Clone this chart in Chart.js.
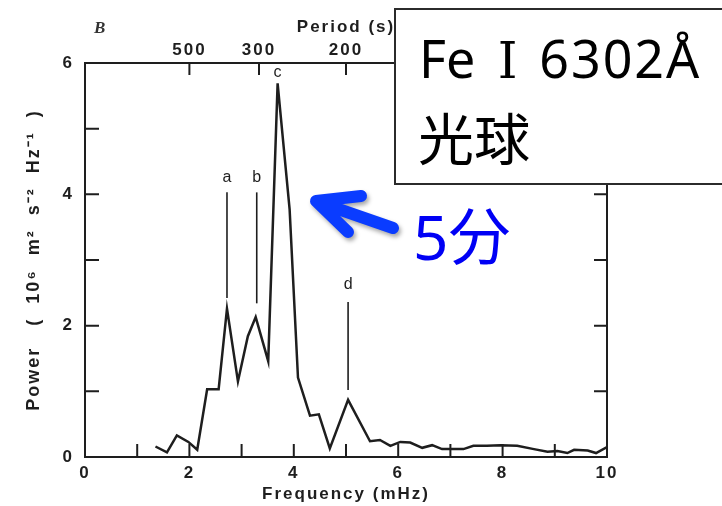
<!DOCTYPE html>
<html>
<head>
<meta charset="utf-8">
<script src="https://cdn.jsdelivr.net/npm/chart.js@4.4.1/dist/chart.umd.min.js"></script>
<style>
  html, body { margin: 0; padding: 0; background: #fff; }
  #wrap { position: relative; width: 722px; height: 506px; overflow: hidden; }
  #chart { position: absolute; left: 0; top: 0; }
  .note { position: absolute; white-space: nowrap; line-height: 1; }
  #panel { position: absolute; left: 394px; top: 8px; width: 360px; height: 173px;
           border: 2px solid #2b2b2b; background: #fff; }
  #line1 { left: 23px; top: 12px; font: 52px "Noto Sans", "Noto Sans CJK JP", sans-serif; color: #000; }
  #line1 .num { font-family: "DejaVu Serif", "Noto Sans CJK JP", serif; font-size: 50px; margin: 0 8px 0 9px; }
  #line1 .wl { letter-spacing: 2px; }
  #line2 { left: 22px; top: 85px; font: 56px "Noto Sans CJK JP", sans-serif; color: #000; }
  #fivemin { left: 413px; top: 188px; font: 62px "Noto Sans", "Noto Sans CJK JP", sans-serif; color: #0000f5; }
  #figB { left: 94px; top: 18px; font: italic bold 17px "Liberation Serif", serif; color: #333; }
</style>
</head>
<body>
<div id="wrap">
  <canvas id="chart" width="722" height="506"></canvas>
  <div class="note" id="figB">B</div>
  <div id="panel">
    <div class="note" id="line1">Fe <span class="num">Ⅰ</span> <span class="wl">6302Å</span></div>
    <div class="note" id="line2">光球</div>
  </div>
  <div class="note" id="fivemin">5分</div>
</div>
<script>
'use strict';

// power spectrum
var freq  = [1.35, 1.57, 1.76, 1.98, 2.15, 2.34, 2.56, 2.72, 2.93, 3.12, 3.27, 3.51, 3.69, 3.92, 4.08,
             4.31, 4.48, 4.69, 5.04, 5.46, 5.65, 5.85, 6.04, 6.23, 6.46, 6.65, 6.84, 7.05, 7.25, 7.44,
             7.70, 7.96, 8.28, 8.60, 8.86, 9.05, 9.24, 9.37, 9.63, 9.79, 10.0];
var power = [0.16, 0.07, 0.33, 0.23, 0.11, 1.03, 1.03, 2.26, 1.15, 1.84, 2.13, 1.46, 5.69, 3.77, 1.21,
             0.63, 0.65, 0.13, 0.87, 0.24, 0.26, 0.17, 0.23, 0.22, 0.14, 0.18, 0.12, 0.12, 0.12, 0.17,
             0.17, 0.18, 0.17, 0.12, 0.08, 0.09, 0.06, 0.11, 0.10, 0.06, 0.15];

var freqTicks   = [0, 1, 2, 3, 4, 5, 6, 7, 8, 9, 10];
var powerTicks  = [0, 1, 2, 3, 4, 5, 6];
var periodTicks = [500, 300, 200, 150, 100];

// peak markers a-d
var peakNames = ['a', 'b', 'c', 'd'];
var peakFreq  = [2.72, 3.29, 3.69, 5.04];
var peakLow   = [2.42, 2.34, null, 1.02];
var peakHigh  = [4.03, 4.03, null, 2.36];
var peakLabel = [4.26, 4.26, 5.86, 2.62];

var ink = '#1e1e1e';
var axisFont = { family: '"Liberation Sans", Arial, sans-serif', size: 17, weight: 'bold' };

function setTicks(list) {
  return function (scale) {
    scale.ticks = list.map(function (v) { return { value: v }; });
  };
}

var paperStyle = {
  id: 'paperStyle',
  beforeDraw: function (chart) {
    chart.ctx.letterSpacing = '2px';
  },
  afterDraw: function (chart) {
    var ctx = chart.ctx;
    var a = chart.chartArea;
    var s = chart.scales;
    ctx.save();
    ctx.letterSpacing = '0px';
    ctx.strokeStyle = ink;
    ctx.lineWidth = 2;
    ctx.beginPath();
    // inward tick marks
    s.x.ticks.forEach(function (t) {
      if (t.value <= 0 || t.value >= 10) return;
      var px = s.x.getPixelForValue(t.value);
      ctx.moveTo(px, a.bottom); ctx.lineTo(px, a.bottom - 13);
    });
    s.x2.ticks.forEach(function (t) {
      var px = s.x2.getPixelForValue(t.value);
      ctx.moveTo(px, a.top); ctx.lineTo(px, a.top + 12);
    });
    s.y.ticks.forEach(function (t) {
      if (t.value <= 0 || t.value >= 6) return;
      var py = s.y.getPixelForValue(t.value);
      ctx.moveTo(a.left, py); ctx.lineTo(a.left + 14, py);
    });
    s.y2.ticks.forEach(function (t) {
      if (t.value <= 0 || t.value >= 6) return;
      var py = s.y2.getPixelForValue(t.value);
      ctx.moveTo(a.right, py); ctx.lineTo(a.right - 13, py);
    });
    ctx.stroke();

    // peak markers
    ctx.lineWidth = 1.6;
    ctx.fillStyle = ink;
    ctx.font = '16px "Liberation Sans", Arial, sans-serif';
    ctx.textAlign = 'center';
    ctx.textBaseline = 'middle';
    peakNames.forEach(function (name, i) {
      var px = s.x.getPixelForValue(peakFreq[i]);
      if (peakLow[i] !== null) {
        ctx.beginPath();
        ctx.moveTo(px, s.y.getPixelForValue(peakLow[i]));
        ctx.lineTo(px, s.y.getPixelForValue(peakHigh[i]));
        ctx.stroke();
      }
      ctx.fillText(name, px, s.y.getPixelForValue(peakLabel[i]));
    });

    // blue arrow pointing at the 5 min peak
    ctx.shadowColor = 'rgba(0,0,0,0.35)';
    ctx.shadowBlur = 4;
    ctx.shadowOffsetX = 2;
    ctx.shadowOffsetY = 3;
    ctx.strokeStyle = '#0a3cff';
    ctx.lineWidth = 12;
    ctx.lineCap = 'round';
    ctx.lineJoin = 'round';
    ctx.beginPath();
    ctx.moveTo(393, 228); ctx.lineTo(318, 202);
    ctx.moveTo(361, 196); ctx.lineTo(316, 201); ctx.lineTo(348, 232);
    ctx.stroke();
    ctx.restore();
  }
};

var chart = new Chart(document.getElementById('chart').getContext('2d'), {
  type: 'line',
  data: {
    datasets: [{
      data: freq.map(function (f, i) { return { x: f, y: power[i] }; }),
      borderColor: ink,
      borderWidth: 2.5,
      pointRadius: 0,
      tension: 0,
      fill: false
    }]
  },
  options: {
    responsive: false,
    animation: false,
    devicePixelRatio: 1,
    layout: { padding: 0 },
    plugins: { legend: { display: false }, tooltip: { enabled: false } },
    scales: {
      x: {
        type: 'linear', position: 'bottom', min: 0, max: 10,
        afterBuildTicks: setTicks(freqTicks),
        afterFit: function (s) { s.height = 49; },
        grid: { display: false, drawTicks: false },
        border: { display: true, color: ink, width: 2 },
        ticks: {
          autoSkip: false, maxRotation: 0, padding: 6, color: ink, font: axisFont,
          callback: function (v) { return v % 2 === 0 ? String(v) : ''; }
        },
        title: { display: true, text: 'Frequency (mHz)', color: ink, font: axisFont,
                 padding: { top: 0, bottom: 1 } }
      },
      x2: {
        type: 'linear', position: 'top', min: 0, max: 10,
        afterBuildTicks: function (scale) {
          scale.ticks = periodTicks.map(function (p) { return { value: 1000 / p }; });
        },
        afterFit: function (s) { s.height = 63; },
        grid: { display: false, drawTicks: false },
        border: { display: true, color: ink, width: 2 },
        ticks: {
          autoSkip: false, maxRotation: 0, padding: 2, color: ink, font: axisFont,
          callback: function (v) { return String(Math.round(1000 / v)); }
        },
        title: { display: true, text: 'Period (s)', color: ink, font: axisFont,
                 padding: { top: 17, bottom: 0 } }
      },
      y: {
        type: 'linear', position: 'left', min: 0, max: 6,
        afterBuildTicks: setTicks(powerTicks),
        afterFit: function (s) { s.width = 85; },
        grid: { display: false, drawTicks: false },
        border: { display: true, color: ink, width: 2 },
        ticks: {
          autoSkip: false, padding: 11, color: ink, font: axisFont,
          callback: function (v) { return v % 2 === 0 ? String(v) : ''; }
        },
        title: { display: true, text: 'Power   (  10⁶  m²  s⁻²  Hz⁻¹  )', color: ink,
                 font: { family: axisFont.family, size: 18, weight: 'bold' },
                 padding: { top: 23, bottom: 0 } }
      },
      y2: {
        type: 'linear', position: 'right', min: 0, max: 6,
        afterBuildTicks: setTicks(powerTicks),
        afterFit: function (s) { s.width = 115; },
        grid: { display: false, drawTicks: false },
        border: { display: true, color: ink, width: 2 },
        ticks: { display: false }
      }
    }
  },
  plugins: [paperStyle]
});
</script>
</body>
</html>
